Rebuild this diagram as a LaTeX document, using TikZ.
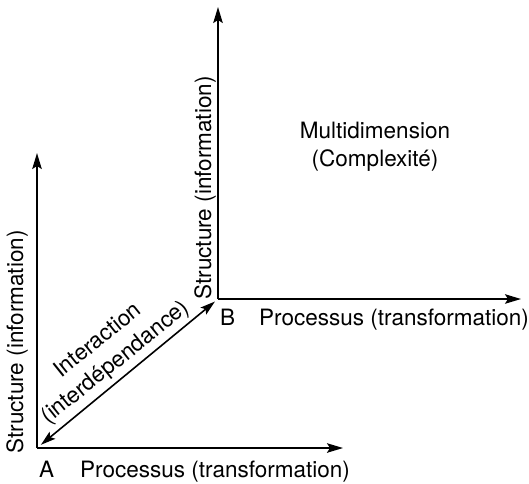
\documentclass[tikz,border=0pt]{standalone}
\usepackage{fontspec}
\setmainfont{TeX Gyre Heros}
\usetikzlibrary{arrows.meta}

\begin{document}
\begin{tikzpicture}[x=1pt, y=-1pt,
	axis/.style = {line width=1.6pt, -{Stealth[length=16pt, width=9.5pt, inset=3pt]}},
	lbl/.style = {font=\fontsize{22.5}{28}\selectfont, inner sep=0pt}]
\useasboundingbox (0,0) rectangle (529,483);
% the two frames
\coordinate (A) at (37,448);
\coordinate (Atop) at (37,153);
\coordinate (Aright) at (343,448);
\coordinate (B) at (218,299);
\coordinate (Btop) at (218,7);
\coordinate (Bright) at (521,299);
\draw[axis] (A) -- (Atop);
\draw[axis] (A) -- (Aright);
\draw[axis] (B) -- (Btop);
\draw[axis] (B) -- (Bright);
\draw[axis, {Stealth[length=15pt, width=9pt, inset=3pt]}-{Stealth[length=15pt, width=9pt, inset=3pt]},
	shorten <= 5pt, shorten >= 4pt] (A) -- (B);
% labels
\node[lbl, anchor=base west] (a) at (39,477) {A};
\node[lbl, anchor=base west] (b) at (220,325) {B};
\node[lbl, anchor=base west] (pa) at (80,477) {Processus (transformation)};
\node[lbl, anchor=base west] (pb) at (259,325) {Processus (transformation)};
\node[lbl, rotate=90, anchor=base] (sa) at (23,342) {Structure (information)};
\node[lbl, rotate=90, anchor=base] (sb) at (211,188) {Structure (information)};
\node[lbl, align=center] (m) at (375,147) {Multidimension\\(Complexité)};
\node[lbl, align=center, rotate=38.7] (i) at (107,352) {Interaction\\(interdépendance)};
\end{tikzpicture}
\end{document}
